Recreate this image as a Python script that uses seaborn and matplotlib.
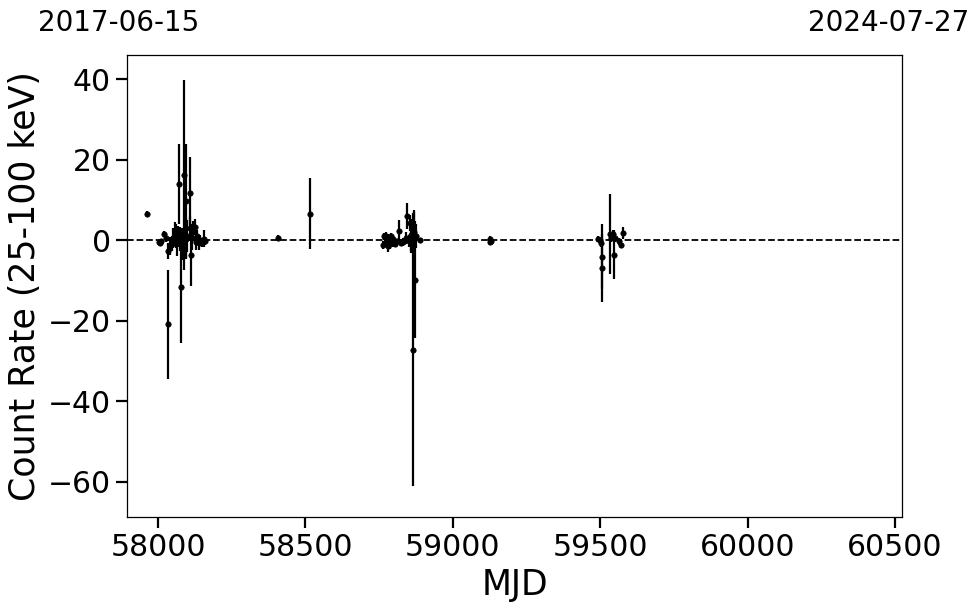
import matplotlib
matplotlib.use("Agg")
import matplotlib.pyplot as plt
import seaborn as sns
import numpy as np
import pandas as pd

mjd = [57964, 58002, 58006, 58010, 58022, 58026, 58033, 58035, 58040, 58047,
       58052, 58058, 58062, 58066, 58069, 58071, 58074, 58078, 58081, 58088,
       58094, 58096, 58100, 58108, 58110, 58112, 58116, 58120, 58125, 58128,
       58133, 58138, 58142, 58148, 58155, 58159,
       58408, 58517,
       58764, 58767, 58770, 58773, 58776, 58779, 58782, 58785, 58788, 58791,
       58794, 58797, 58800, 58805, 58812, 58817, 58824, 58832, 58840, 58845,
       58850, 58854, 58857, 58860, 58864, 58867, 58869, 58872, 58875, 58888,
       59125, 59127, 59129,
       59493, 59498, 59504, 59506, 59505, 59532, 59538, 59543, 59546, 59552,
       59563, 59570, 59577]
rate = [6.6, -0.5, -0.7, -0.3, 1.5, 0.6, -2.8, -20.9, -1.5, -0.9,
        0.6, 2.0, 1.0, -0.4, 0.9, 13.9, 0.3, -11.6, -1.0, 16.2,
        9.8, 0.4, 1.0, 11.6, 3.0, -3.8, 0.6, 2.2, 3.3, -0.4,
        1.1, -0.6, 0.0, -0.8, 0.4, -0.3,
        0.6, 6.6,
        -1.2, 0.9, -0.8, 1.1, -0.3, 0.6, -1.5, 0.2, -0.9, 1.0,
        -0.6, 0.4, -0.8, -1.0, -0.2, 2.3, -0.6, -0.4, 0.5, 5.9,
        -0.3, 4.2, 0.8, 1.2, -27.2, 2.1, 0.6, -9.8, 1.0, 0.0,
        0.4, -0.5, -0.2,
        0.3, 0.0, -0.6, -4.1, -6.9, 1.5, 0.5, 1.4, -3.6, 0.5,
        -0.3, -1.1, 1.7]
err = [0.6, 0.5, 0.6, 0.5, 0.8, 1.0, 2.0, 13.5, 2.2, 1.8,
       2.5, 2.5, 3.0, 3.5, 2.5, 10.0, 3.0, 14.0, 4.0, 23.6,
       14.2, 5.0, 4.0, 9.0, 3.0, 7.7, 3.0, 2.5, 2.0, 2.0,
       1.5, 1.8, 1.2, 1.0, 2.0, 0.8,
       0.6, 8.8,
       1.0, 0.8, 1.0, 0.8, 1.2, 1.0, 1.5, 1.0, 1.2, 0.8,
       1.0, 0.8, 0.8, 0.6, 0.6, 2.7, 0.8, 1.0, 1.5, 3.2,
       1.5, 2.0, 4.0, 4.0, 34.0, 5.0, 7.0, 14.5, 3.0, 0.6,
       0.6, 0.6, 0.8,
       0.8, 0.6, 1.0, 8.0, 8.5, 10.0, 1.0, 1.2, 6.0, 1.0,
       0.8, 0.8, 1.5]

x_ticks = [58000, 58500, 59000, 59500, 60000, 60500]
y_ticks = [-60, -40, -20, 0, 20, 40]
date_start = "2017-06-15"
date_end = "2024-07-27"

df = pd.DataFrame({"MJD": mjd, "rate": rate, "err": err})

sns.set_style("ticks")
plt.rcParams["font.family"] = ["DejaVu Sans"]
plt.rcParams["text.color"] = "black"
plt.rcParams["axes.labelcolor"] = "black"
plt.rcParams["xtick.color"] = "black"
plt.rcParams["ytick.color"] = "black"

fig = plt.figure(figsize=(9.8, 6.13), dpi=100)
ax = fig.add_axes([0.1296, 0.1566, 0.7908, 0.7537])

ax.errorbar(df["MJD"], df["rate"], yerr=df["err"], fmt="none",
            ecolor="black", elinewidth=1.6, capsize=0, zorder=2)
sns.scatterplot(data=df, x="MJD", y="rate", ax=ax, color="black", s=15,
                edgecolor="black", linewidth=0.5, zorder=3, legend=False)
ax.axhline(0, color="black", linestyle="--", linewidth=1.3, zorder=1)

ax.set_xlim(57895, 60524)
ax.set_ylim(-68.8, 46)
ax.set_xticks(x_ticks)
ax.set_yticks(y_ticks)
ax.tick_params(axis="both", which="major", labelsize=21.5, length=8, width=1.6,
               direction="out", color="black", labelcolor="black")
for s in ax.spines.values():
    s.set_linewidth(0.9)
    s.set_color("black")
ax.set_xlabel("MJD", fontsize=25, color="black")
ax.set_ylabel("Count Rate (25-100 keV)", fontsize=25, color="black")

fig.text(0.039, 0.962, date_start, ha="left", va="center", fontsize=20, color="black")
fig.text(0.989, 0.962, date_end, ha="right", va="center", fontsize=20, color="black")

fig.savefig("out.png", dpi=100)
